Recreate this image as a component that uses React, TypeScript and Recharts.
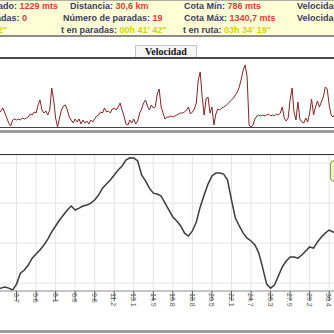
import React from "react";
import { LineChart, Line, XAxis, YAxis, CartesianGrid } from "recharts";

// distance labels shown under the elevation profile (km), one every 10 samples
const distLabels = ["1.8","3.7","5.6","6.1","6.9","9.6","11.2","13.1","14.9","16.8","18.8","20.5","22.1","24.7","26.3","27.9","29.2","30.4"];

// elevation (m), one value every 2 samples
const elevation = [
  790, 794, 799, 794, 786, 811, 857, 870, 891, 920,
  937, 954, 975, 1000, 1030, 1055, 1080, 1101, 1122, 1139,
  1122, 1130, 1139, 1143, 1151, 1164, 1185, 1214, 1231, 1248,
  1269, 1290, 1307, 1332, 1341, 1340, 1328, 1269, 1244, 1214,
  1193, 1189, 1181, 1151, 1122, 1093, 1076, 1055, 1025, 1013,
  1034, 1072, 1135, 1185, 1231, 1265, 1277, 1277, 1273, 1248,
  1164, 1088, 1055, 1025, 1004, 992, 975, 941, 878, 811,
  794, 807, 845, 883, 908, 925, 925, 920, 933, 950,
  967, 962, 988, 1009, 1025, 1038, 1030, 1025,
];

// speed (km/h), one value per sample
const speed = [
  13, 14, 16, 19, 14, 9, 4, 1, 7, 8,
  7, 8, 7, 9, 8, 9, 10, 13, 12, 15,
  14, 22, 27, 17, 14, 16, 12, 17, 39, 27,
  9, 0, 9, 17, 21, 22, 17, 10, 7, 4,
  8, 5, 8, 3, 7, 4, 6, 3, 7, 5,
  8, 11, 12, 15, 14, 19, 15, 16, 14, 18,
  19, 17, 20, 24, 17, 11, 3, 2, 7, 4,
  8, 3, 6, 14, 18, 24, 27, 21, 17, 22,
  19, 20, 33, 38, 20, 14, 8, 10, 10, 11,
  10, 11, 12, 13, 14, 14, 15, 17, 20, 13,
  15, 18, 24, 47, 55, 30, 12, 28, 30, 14,
  20, 2, 13, 18, 17, 19, 20, 21, 23, 25,
  27, 29, 32, 35, 40, 48, 57, 62, 50, 2,
  0, 2, 8, 11, 12, 11, 12, 11, 12, 13,
  11, 12, 11, 13, 12, 14, 20, 9, 6, 9,
  27, 39, 15, 7, 25, 8, 5, 4, 9, 5,
  14, 28, 12, 20, 26, 20, 25, 30, 40, 38,
  22, 12, 10, 13,
];

const elevGrid = [815, 899, 983, 1067, 1151, 1235, 1319];

const elevData = elevation.map((e, i) => ({ s: i * 2, e }));
const speedData = speed.map((v, i) => ({ s: i, v }));
const xTicks = distLabels.map((_, i) => i * 10);

const FONT = "'Liberation Sans', Arial, sans-serif";

const RotTick = (props: any) => {
  const { x, y, payload } = props;
  const label = distLabels[Math.round(payload.value / 10)] ?? "";
  return (
    <text
      transform={`translate(${x + 2},${y - 10}) rotate(90)`}
      fontSize={7}
      fontFamily={FONT}
      fill="#555"
      dominantBaseline="hanging"
    >
      {label}
    </text>
  );
};

const lbl: React.CSSProperties = { color: "#3c3c5a" };
const red: React.CSSProperties = { color: "#e03a3a" };
const yel: React.CSSProperties = { color: "#d2d200" };

const Cell = ({ left, right, top, children }: any) => (
  <div
    style={{
      position: "absolute",
      left: right === undefined ? left : undefined,
      right: right !== undefined ? 334 - right : undefined,
      top,
      whiteSpace: "nowrap",
      fontSize: 9,
      fontWeight: 600,
      fontFamily: FONT,
      lineHeight: "11px",
    }}
  >
    {children}
  </div>
);

export default function App() {
  return (
    <div
      style={{
        position: "fixed",
        left: 0,
        top: 0,
        width: 334,
        height: 334,
        overflow: "hidden",
        background: "#fff",
      }}
    >
      {/* info panel */}
      <div
        style={{
          position: "absolute",
          left: 0,
          top: 0,
          width: 334,
          height: 37,
          background: "#ffffd6",
          borderTop: "1px solid #b0b0a0",
          borderBottom: "2px solid #8c8c8c",
          boxSizing: "border-box",
        }}
      />
      <Cell right={58} top={1}>
        <span style={lbl}>Desnivel acumulado: </span>
        <span style={red}>1229 mts</span>
      </Cell>
      <Cell left={70} top={1}>
        <span style={lbl}>Distancia: </span>
        <span style={red}>30,6 km</span>
      </Cell>
      <Cell left={184} top={1}>
        <span style={lbl}>Cota Mín: </span>
        <span style={red}>786 mts</span>
      </Cell>
      <Cell left={297} top={1}>
        <span style={lbl}>Velocidad media: </span>
        <span style={red}>8,6 km/h</span>
      </Cell>
      <Cell right={27} top={13}>
        <span style={lbl}>Paradas: </span>
        <span style={red}>0</span>
      </Cell>
      <Cell left={63} top={13}>
        <span style={lbl}>Número de paradas: </span>
        <span style={red}>19</span>
      </Cell>
      <Cell left={184} top={13}>
        <span style={lbl}>Cota Máx: </span>
        <span style={red}>1340,7 mts</span>
      </Cell>
      <Cell left={297} top={13}>
        <span style={lbl}>Velocidad máx: </span>
        <span style={red}>62 km/h</span>
      </Cell>
      <Cell right={7} top={25}>
        <span style={lbl}>t total: </span>
        <span style={yel}>04h 16' 02"</span>
      </Cell>
      <Cell left={61} top={25}>
        <span style={lbl}>t en paradas: </span>
        <span style={yel}>00h 41' 42"</span>
      </Cell>
      <Cell left={183} top={25}>
        <span style={lbl}>t en ruta: </span>
        <span style={yel}>03h 34' 19"</span>
      </Cell>

      {/* tab */}
      <div
        style={{
          position: "absolute",
          left: 135,
          top: 45,
          width: 62,
          height: 13,
          boxSizing: "border-box",
          border: "1px solid #c4c4c4",
          borderBottom: "none",
          background: "#f6f6f6",
          fontFamily: "'Liberation Serif', 'Times New Roman', serif",
          fontWeight: 700,
          fontSize: 10,
          lineHeight: "12px",
          textAlign: "center",
          color: "#111",
        }}
      >
        Velocidad
      </div>
      <div style={{ position: "absolute", left: 0, top: 57, width: 334, height: 2, background: "#4a4a4a" }} />

      {/* speed chart */}
      <div style={{ position: "absolute", left: -3, top: 59 }}>
        <LineChart width={340} height={68} data={speedData} margin={{ top: 0, right: 0, bottom: 0, left: 0 }}>
          <XAxis type="number" dataKey="s" domain={[0, 174]} hide />
          <YAxis type="number" domain={[0, 68]} hide />
          <Line
            type="linear"
            dataKey="v"
            stroke="#8a2424"
            strokeWidth={1}
            dot={false}
            isAnimationActive={false}
          />
        </LineChart>
      </div>
      <div style={{ position: "absolute", left: 0, top: 127, width: 334, height: 1, background: "#444" }} />
      <div style={{ position: "absolute", left: 0, top: 130, width: 334, height: 3, background: "#9a9a9a" }} />

      {/* elevation chart */}
      <div style={{ position: "absolute", left: 0, top: 154, width: 334, height: 1, background: "#333" }} />
      <div style={{ position: "absolute", left: -3, top: 155 }}>
        <LineChart width={340} height={166} data={elevData} margin={{ top: 0, right: 0, bottom: 0, left: 0 }}>
          <CartesianGrid stroke="#e4e4e4" strokeWidth={1} />
          <XAxis
            type="number"
            dataKey="s"
            domain={[0, 174]}
            ticks={xTicks}
            interval={0}
            height={30}
            tickSize={10}
            tickMargin={2}
            axisLine={{ stroke: "#9a9a9a" }}
            tickLine={{ stroke: "#555" }}
            tick={<RotTick />}
          />
          <YAxis type="number" domain={[782, 1353]} ticks={elevGrid} hide />
          <Line
            type="linear"
            dataKey="e"
            stroke="#3c3c3c"
            strokeWidth={1.5}
            dot={false}
            isAnimationActive={false}
          />
        </LineChart>
      </div>
      <div
        style={{
          position: "absolute",
          left: 330,
          top: 160,
          width: 20,
          height: 22,
          boxSizing: "border-box",
          border: "1px solid #8a9a50",
          borderRadius: 4,
          background: "#eef2c4",
        }}
      />
      <div style={{ position: "absolute", left: 0, top: 330, width: 334, height: 3, background: "#9a9a9a" }} />
    </div>
  );
}
